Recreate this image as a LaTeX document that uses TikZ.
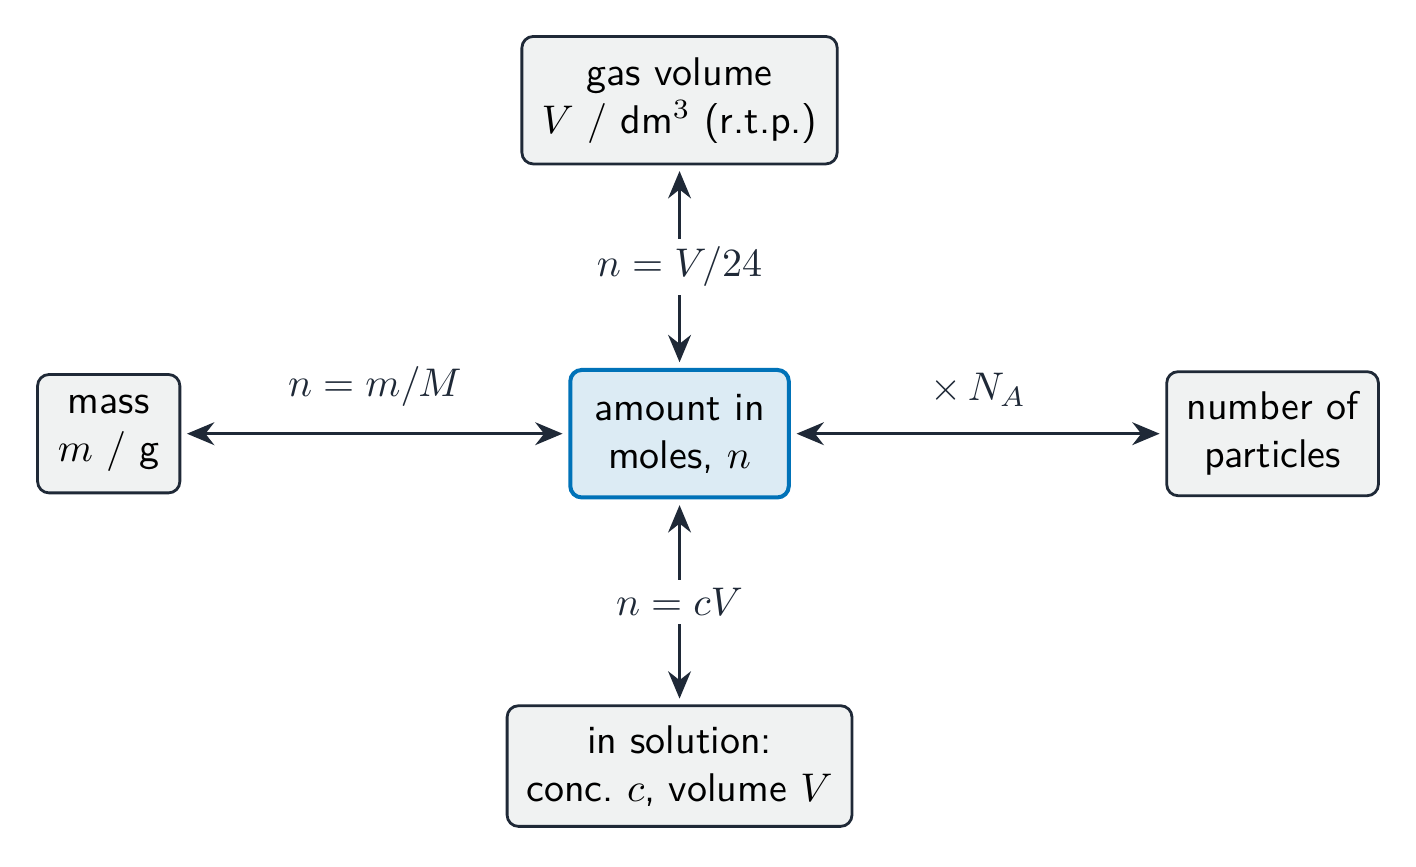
\documentclass[tikz,border=0pt]{standalone}
\usepackage{amsmath}
\usetikzlibrary{positioning,arrows.meta}
\renewcommand{\familydefault}{\sfdefault}
\definecolor{inkdark}{HTML}{1F2937}
\definecolor{boxgray}{HTML}{F0F2F2}
\definecolor{moleblue}{HTML}{0072B8}
\definecolor{molefill}{HTML}{DCEBF4}
\tikzset{
semithick,
>={Stealth[length=2.4mm,width=2mm]},
my box/.style={draw=inkdark,fill=boxgray,rounded corners=1mm,line width=0.7pt,align=center,
  minimum height=1.08cm},
my centre/.style={my box,draw=moleblue,fill=molefill,line width=1pt},
my link/.style={<->,draw=inkdark,line width=0.8pt,shorten >=0.5mm,shorten <=0.5mm},
my label/.style={fill=white,text=inkdark,inner sep=2pt},
}
\begin{document}
\begin{tikzpicture}
\useasboundingbox (0,0) rectangle (12.44,-7.61);
\node[my centre,minimum width=1.92cm,minimum height=1.12cm] (mol) at (5.97,-3.81) {amount in\\moles, $n$};
\node[my box,minimum width=2.77cm,minimum height=1.12cm,above=1.78cm of mol] (gas) {gas volume\\$V$ / dm$^3$ (r.t.p.)};
\node[my box,minimum width=3.03cm,minimum height=1.06cm,below=1.8cm of mol] (sol) {in solution:\\conc.\ $c$, volume $V$};
\node[my box,minimum width=1.25cm,minimum height=1.04cm,left=3.4cm of mol] (mass) {mass\\$m$ / g};
\node[my box,minimum width=1.86cm,minimum height=1.09cm,right=3.29cm of mol] (part) {number of\\particles};
\path (mol) edge[my link] node[my label] {$n = V/24$} (gas)
  (mol) edge[my link] node[my label] {$n = cV$} (sol)
  (mass) edge[my link] node[above=3pt,text=inkdark] {$n = m/M$} (mol)
  (mol) edge[my link] node[above=3pt,text=inkdark] {$\times\, N_A$} (part);
\end{tikzpicture}
\end{document}
